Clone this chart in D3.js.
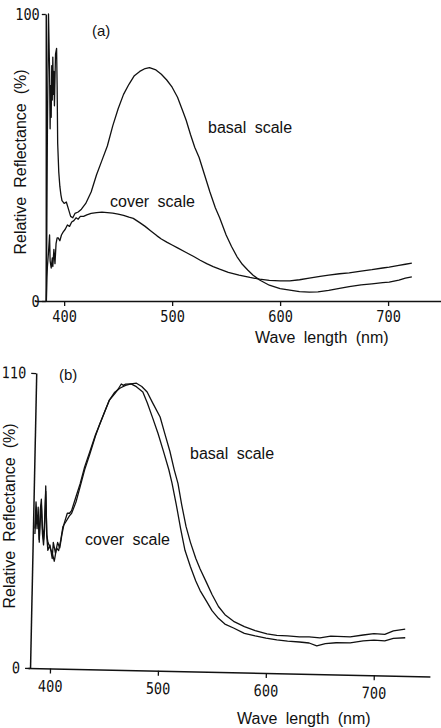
<!DOCTYPE html>
<html>
<head>
<meta charset="utf-8">
<script src="https://cdn.jsdelivr.net/npm/d3@7"></script>
<style>
  body { margin: 0; background: #fff; }
  text { font-family: "Liberation Sans", Arial, sans-serif; fill: #111; }
  .tick text { font-family: "DejaVu Sans Mono", monospace; }
</style>
</head>
<body>
<svg id="chart" width="441" height="728"></svg>
<script>
// spectra as [wave length (nm), relative reflectance (%)]
const basalA = [[383.5,0],[384.5,60],[385.5,100],[386.5,80],[387,60],[387.5,75],[388,64],[388.5,82],[389,70],[389.5,85],[390,72],[390.5,80],[391,68],[392,86],[393,88],[393.5,75],[394,55],[395,45],[396,40],[397,37],[398,35],[400,34],[402,34.5],[404,32],[406,29.5],[408,29],[410,30.5],[413,31],[416,32],[420,34],[425,38],[430,44],[435,49],[440,54],[445,61],[450,67],[455,72],[460,75.5],[465,78.5],[470,80],[475,81],[479,81.3],[485,80.5],[490,79],[495,77],[500,74.5],[505,71],[510,66],[513,63],[517,58],[521,53.5],[525,50],[530,44],[535,38],[540,32.5],[544,29],[550,23],[555,19],[560,15.5],[565,12.8],[570,10.8],[575,9],[581,7.3],[590,5.5],[600,4.3],[609,3.8],[618,3.3],[627,3.1],[635,3.2],[645,3.7],[655,4.4],[664,5],[675,5.6],[685,6],[695,6.4],[701,6.6],[710,7.3],[716,8],[722,8.4]];

const coverA = [[383.5,0],[384,8],[384.5,12],[385.5,17],[386.5,23],[387,14],[388,11.5],[389,15],[389.5,12],[390.5,18],[391.5,13],[392.5,20],[393.5,22],[394.5,22],[396,21],[397.5,23],[399,24],[401,25],[403,26.5],[405,26],[407,27.5],[409,28],[411,29],[413,28.5],[415,29.5],[418,29.5],[421,30],[425,30.5],[430,30.8],[435,31],[440,30.8],[445,30.6],[450,30.3],[455,29.8],[460,29.2],[464,28.8],[470,27.3],[475,26],[480,24.5],[486,22.7],[490,21.6],[495,20.5],[500,19.5],[505,18.5],[513,16.9],[520,15.5],[526,14.2],[532,13],[538,12],[544,11.1],[552,10],[562,9],[572,8.2],[581,7.6],[590,7.2],[600,7],[609,7],[618,7.4],[627,8],[637,8.6],[645,9],[655,9.5],[664,9.8],[675,10.4],[685,10.9],[695,11.5],[701,11.8],[710,12.4],[716,12.8],[722,13.2]];

const basalB = [[383.3,52],[383.8,62],[385.1,55],[386,57],[387.6,47],[387.9,59],[388.7,63],[390.3,52],[391.5,48],[392.1,55],[392.6,66],[394.4,50],[395.6,47],[397.7,45],[399.8,43],[401.9,40],[403.7,45],[405.7,44],[407.5,48],[409.2,53],[412.1,55],[415,57],[417,58],[420.8,62.2],[424.5,68.2],[428.2,74.3],[432.8,80.3],[437.5,86.9],[441.3,91.4],[446,96.5],[449.8,100.5],[454.6,103.5],[459.6,105.1],[464.5,106.1],[469.5,106.7],[474.5,107],[479.5,105.8],[484.6,103.8],[489.9,99.8],[497.1,94.6],[501.4,88.9],[506.8,81.9],[511.2,75],[514.9,70],[518.8,62],[523.2,54],[527.6,48.1],[532.9,42.1],[537.1,38.2],[543.3,33.2],[548.6,28.8],[554.8,24.4],[561,21.4],[569.1,19],[579.2,17.1],[589.3,15.7],[600.3,14.6],[609.4,14.1],[619.4,14],[630.4,13.7],[639.4,13.8],[649.4,13.5],[659.4,14.2],[677.4,14.1],[689.4,14.9],[699.3,15.5],[709.4,15.3],[717.3,16.7],[728.2,17.4]];

const coverB = [[383.4,50],[384,58],[385.3,52],[385.9,60],[387.5,48],[388.1,55],[388.8,61],[390.4,50],[391.6,46],[392.3,52],[392.5,68],[394.5,49],[395.7,44],[397.6,46],[399.9,41],[400.6,47],[402.8,43],[404.6,47],[406.7,45],[408.4,50],[410.2,54],[413,58],[415,58],[416.9,59],[420.7,64.2],[424.4,69.2],[428.1,75.3],[432.8,81.3],[437.5,87.4],[441.3,91.4],[446,96.5],[449.8,100.5],[454.7,103],[457.6,104.6],[460.5,106.6],[462.5,106.1],[464.5,106.6],[469.5,106.7],[474.5,105.7],[480.6,103.8],[484.9,99.8],[490.1,94.3],[495.5,88.4],[500.8,81.9],[506.2,75],[509.4,70],[513.8,62],[518.3,53],[522.7,45.1],[528,39.1],[533.3,33.7],[537.5,30.2],[543.7,26.2],[548.9,22.8],[555,20],[561.1,17.9],[569.2,16.5],[579.3,14.6],[589.4,13.7],[599.4,13],[609.5,12.4],[619.5,12],[630.5,11.8],[639.5,11.5],[646.6,10.5],[654.5,11.4],[664.5,11.8],[677.5,11.9],[689.5,12.7],[699.5,13.1],[709.5,12.9],[717.4,13.9],[728.4,14.2]];

const xTicks = [400, 500, 600, 700];
const yTicksA = [0, 100];
const yTicksB = [0, 110];

const svg = d3.select("#chart");
svg.append("rect").attr("width", 441).attr("height", 728).attr("fill", "#fff");

// common styling for axes
function styleAxis(g, fontSize) {
  g.attr("font-size", null).attr("font-family", null);
  g.select(".domain").attr("stroke", "#111").attr("stroke-width", 1.5);
  g.selectAll(".tick line").attr("stroke", "#111").attr("stroke-width", 1.3);
  g.selectAll(".tick text")
    .style("font-size", fontSize + "px")
    .attr("textLength", d => String(d).length * 8.2)
    .attr("lengthAdjust", "spacingAndGlyphs");
}

function drawCurves(g, x, y, series) {
  const line = d3.line().x(d => x(d[0])).y(d => y(d[1]));
  g.selectAll(".spec")
    .data(series)
    .enter()
    .append("path")
    .attr("class", "spec")
    .attr("d", d => line(d))
    .attr("fill", "none")
    .attr("stroke", "#111")
    .attr("stroke-width", 1.3)
    .attr("stroke-linejoin", "round");
}

// ---- panel (a)
const xA = d3.scaleLinear().domain([373, 749]).range([35, 441]);
const yA = d3.scaleLinear().domain([0, 100]).range([301, 14]);
const gA = svg.append("g");

gA.append("g")
  .attr("transform", `translate(0,${yA(0)})`)
  .call(d3.axisBottom(xA).tickValues(xTicks).tickSize(5).tickSizeOuter(0).tickPadding(5).tickFormat(d3.format("d")))
  .call(g => styleAxis(g, 16));

gA.append("g")
  .attr("transform", `translate(${xA(383)},0)`)
  .call(d3.axisLeft(yA).tickValues(yTicksA).tickSize(4).tickSizeOuter(0).tickPadding(2))
  .call(g => styleAxis(g, 16));

drawCurves(gA, xA, yA, [basalA, coverA]);

gA.append("text").attr("x", 92).attr("y", 36).style("font-size", "15px").text("(a)");
gA.append("text").attr("x", 208).attr("y", 133).style("font-size", "16px").style("word-spacing", "4px").text("basal scale");
gA.append("text").attr("x", 110).attr("y", 207).style("font-size", "16px").style("word-spacing", "4px").text("cover scale");
gA.append("text").attr("x", 255).attr("y", 343).style("font-size", "16px").style("word-spacing", "4px").text("Wave length (nm)");
gA.append("text")
  .attr("transform", "translate(26,162) rotate(-90)")
  .attr("text-anchor", "middle")
  .style("font-size", "16px").style("word-spacing", "4.5px")
  .text("Relative Reflectance (%)");

// ---- panel (b), scanned slightly tilted
const xB = d3.scaleLinear().domain([379.6, 752]).range([-2, 400]);
const yB = d3.scaleLinear().domain([0, 110]).range([0, -295]);
const gB = svg.append("g").attr("transform", "translate(30,668) rotate(1.2)");

gB.append("g")
  .call(d3.axisBottom(xB).tickValues(xTicks).tickSize(5).tickSizeOuter(0).tickPadding(7).tickFormat(d3.format("d")))
  .call(g => styleAxis(g, 16));

gB.append("g")
  .attr("transform", `translate(${xB(381.5)},0)`)
  .call(d3.axisLeft(yB).tickValues(yTicksB).tickSize(5).tickSizeOuter(0).tickPadding(5))
  .call(g => styleAxis(g, 16));

drawCurves(gB, xB, yB, [basalB, coverB]);

svg.append("text").attr("x", 59).attr("y", 380).style("font-size", "15px").text("(b)");
svg.append("text").attr("x", 190).attr("y", 459).style("font-size", "16px").style("word-spacing", "4px").text("basal scale");
svg.append("text").attr("x", 85).attr("y", 545).style("font-size", "16px").style("word-spacing", "4px").text("cover scale");
svg.append("text").attr("x", 237).attr("y", 724).style("font-size", "16px").style("word-spacing", "4px").text("Wave length (nm)");
svg.append("text")
  .attr("transform", "translate(15,516) rotate(-90)")
  .attr("text-anchor", "middle")
  .style("font-size", "16px").style("word-spacing", "4.5px")
  .text("Relative Reflectance (%)");
</script>
</body>
</html>
